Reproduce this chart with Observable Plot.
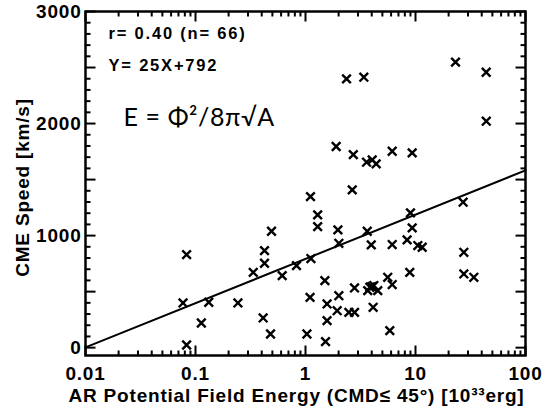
<!DOCTYPE html>
<html>
<head>
<meta charset="utf-8">
<script src="https://cdn.jsdelivr.net/npm/d3@7"></script>
<script src="https://cdn.jsdelivr.net/npm/@observablehq/plot@0.6"></script>
<style>
  html, body { margin: 0; padding: 0; background: #fff; }
  #chart { width: 544px; height: 420px; }
</style>
</head>
<body>
<div id="chart"></div>
<script>
// AR potential field energy [10^33 erg]
const energy = [
  23.1, 43.9, 44.0, 2.36, 3.39, 1.90, 2.72, 3.59, 4.04, 4.39, 6.14, 9.33, 1.11, 2.66,
  0.083, 0.077, 0.083, 0.132, 0.113, 0.243, 0.335, 0.424, 0.424, 0.491, 0.412, 0.481,
  0.614, 0.828, 1.12, 1.10, 1.03,
  1.29, 1.29, 1.97, 2.01, 3.64, 3.96, 6.14, 9.0, 9.33, 8.39, 10.5, 11.5, 27.1, 27.5,
  27.5, 33.9, 1.50, 1.57, 1.57, 1.52, 2.01, 1.94, 2.48, 2.79, 2.79, 3.68, 4.18, 3.85,
  4.54, 4.12, 5.59, 6.14, 8.87, 5.84, 4.0
];
// CME speed [km/s]
const speed = [
  2548, 2458, 2021, 2399, 2414, 1795, 1723, 1655, 1676, 1640, 1753, 1738, 1348, 1408,
  830, 399, 24, 405, 220, 399, 672, 866, 753, 1039, 265, 122,
  643, 732, 795, 449, 122,
  1185, 1080, 1051, 931, 1039, 917, 920, 1203, 1069, 962, 911, 896, 1298, 851,
  658, 628, 598, 390, 241, 54, 464, 330, 315, 315, 533, 509, 554, 539,
  509, 360, 628, 563, 672, 152, 545
];
// regression (in log10 of energy)
const fitSlope = 395;
const fitIntercept = 792;
const fitRange = [0.01, 100];

const xTickValues = [0.01, 0.1, 1, 10, 100];
const xTickLabels = ["0.01", "0.1", "1", "10", "100"];
const yTickValues = [0, 1000, 2000, 3000];
const yTickLabels = ["0", "1000", "2000", "3000"];

const statText = "r= 0.40 (n= 66)";
const fitText = "Y= 25X+792";
const formulaText = "E = \u03a6\u00b2/8\u03c0\u221aA";
const xTitle = "AR Potential Field Energy (CMD\u2264 45\u00b0) [10\u00b3\u00b3erg]";
const yTitle = "CME Speed [km/s]";

const points = energy.map((e, i) => ({e, v: speed[i]}));
const fit = fitRange.map(e => ({e, v: fitIntercept + fitSlope * Math.log10(e)}));

const xMinor = [];
for (const d of [0.01, 0.1, 1, 10]) for (let k = 2; k <= 9; k++) xMinor.push(k * d);
const yMid = [500, 1500, 2500];
const yMajor = [...yTickValues, ...yMid];
const yMinor = d3.range(0, 3001, 100).filter(v => v % 500 !== 0);

// layout
const W = 544, H = 420, mL = 85, mR = 19, mT = 11, mB = 65;
const majorLen = 10, minorLen = 5;

// tick-shaped symbols: a short segment pointing into the frame
const seg = (dx, dy) => ({draw(ctx) { ctx.moveTo(0, 0); ctx.lineTo(dx, dy); }});
const tickMark = (data, channel, anchor, len) => {
  const dir = {bottom: [0, -len], top: [0, len], left: [len, 0], right: [-len, 0]}[anchor];
  return Plot.dot(data, {[channel]: d => d, frameAnchor: anchor, symbol: seg(...dir),
    fill: "none", stroke: "black", strokeWidth: 2});
};

const font = "'Liberation Sans', Arial, sans-serif";
const lbl = {fontSize: 19, fontWeight: "bold", fill: "black"};

const chart = Plot.plot({
  width: W,
  height: H,
  marginLeft: mL,
  marginRight: mR,
  marginTop: mT,
  marginBottom: mB,
  style: {fontFamily: font, letterSpacing: "0.8px"},
  x: {type: "log", domain: [0.01, 100], axis: null},
  y: {domain: [-70, 3000], axis: null},
  marks: [
    // tick labels
    Plot.text(xTickValues, {x: d => d, text: (d, i) => xTickLabels[i], frameAnchor: "bottom",
      lineAnchor: "middle", textAnchor: "middle", dy: 18, ...lbl}),
    Plot.text(yTickValues, {y: d => d, text: (d, i) => yTickLabels[i], frameAnchor: "left",
      lineAnchor: "middle", textAnchor: "end", dx: -4, ...lbl}),
    // axis titles
    Plot.text([xTitle], {frameAnchor: "bottom", lineAnchor: "middle", textAnchor: "middle",
      dy: 40, dx: -9, ...lbl}),
    Plot.text([yTitle], {frameAnchor: "left", rotate: -90, lineAnchor: "middle",
      textAnchor: "middle", dx: -63, dy: 4, ...lbl}),
    // fit line and points
    Plot.line(fit, {x: "e", y: "v", stroke: "black", strokeWidth: 2}),
    Plot.dot(points, {x: "e", y: "v", symbol: "times", r: 4, stroke: "black", strokeWidth: 2.4}),
    // annotations
    Plot.text([statText], {frameAnchor: "top-left", lineAnchor: "middle", textAnchor: "start",
      dx: 23, dy: 22, fontSize: 16.5, fontWeight: "bold", fill: "black"}),
    Plot.text([fitText], {frameAnchor: "top-left", lineAnchor: "middle", textAnchor: "start",
      dx: 23, dy: 54, fontSize: 16.5, fontWeight: "bold", fill: "black"}),
    Plot.text([formulaText], {frameAnchor: "top-left", lineAnchor: "middle", textAnchor: "start",
      dx: 38, dy: 106, fontSize: 25, fontFamily: "Lato, 'Open Sans', sans-serif", fill: "black"}),
    Plot.frame({stroke: "black", strokeWidth: 2.5}),
    // inward ticks on all four sides
    tickMark(xTickValues, "x", "bottom", majorLen),
    tickMark(xMinor, "x", "bottom", minorLen),
    tickMark(xTickValues, "x", "top", majorLen),
    tickMark(xMinor, "x", "top", minorLen),
    tickMark(yMajor, "y", "left", majorLen),
    tickMark(yMinor, "y", "left", minorLen),
    tickMark(yMajor, "y", "right", majorLen),
    tickMark(yMinor, "y", "right", minorLen)
  ]
});
// wider letter spacing for the annotation lines (the reference uses a stretched font)
const spacing = new Map([[statText, "1.8px"], [fitText, "1.8px"], [formulaText, "0.6px"]]);
d3.select(chart).selectAll("text").each(function() {
  const s = spacing.get(this.textContent);
  if (s) this.style.letterSpacing = s;
});
document.getElementById("chart").append(chart);
</script>
</body>
</html>
